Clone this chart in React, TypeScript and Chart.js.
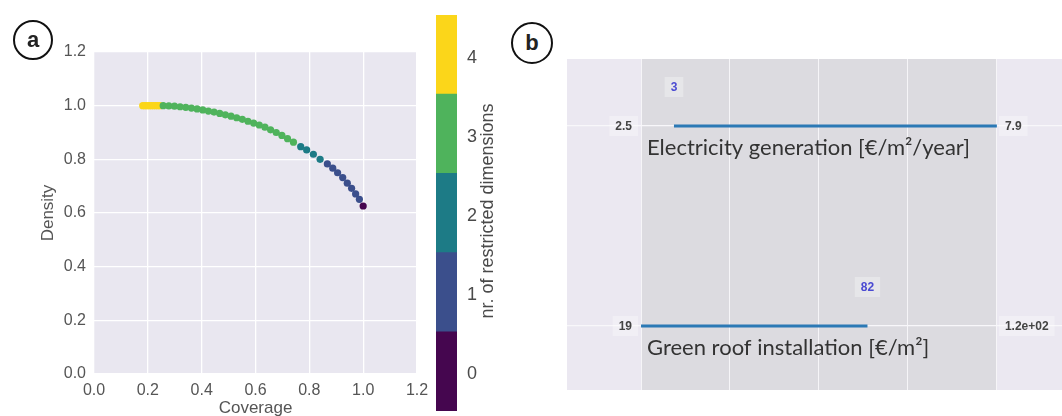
import React, { useEffect, useRef } from 'react';
import { Chart, registerables } from 'chart.js';

Chart.register(...registerables);
Chart.defaults.font.family = "'Liberation Sans', Arial, sans-serif";

// ---------- Panel a: Pareto front (coverage vs density) ----------
const coverage = [
  0.181, 0.189, 0.197, 0.205, 0.213, 0.221, 0.229, 0.237, 0.245,
  0.257, 0.278, 0.299, 0.320, 0.341, 0.362, 0.383, 0.404, 0.425, 0.446, 0.467, 0.488,
  0.509, 0.530, 0.551, 0.572, 0.593, 0.614, 0.635, 0.656, 0.677, 0.698, 0.719, 0.741,
  0.768, 0.790, 0.815, 0.840,
  0.867, 0.887, 0.905, 0.924, 0.941, 0.957, 0.972, 0.986,
  1.0,
];
const density = [
  1.0, 1.0, 1.0, 1.0, 1.0, 1.0, 1.0, 1.0, 1.0,
  1.000, 0.999, 0.998, 0.996, 0.994, 0.991, 0.988, 0.984, 0.980, 0.976, 0.971, 0.966,
  0.961, 0.955, 0.949, 0.942, 0.935, 0.928, 0.920, 0.910, 0.900, 0.889, 0.877, 0.864,
  0.847, 0.835, 0.819, 0.800,
  0.783, 0.767, 0.750, 0.732, 0.711, 0.692, 0.671, 0.651,
  0.626,
];
const restricted = [
  4, 4, 4, 4, 4, 4, 4, 4, 4,
  3, 3, 3, 3, 3, 3, 3, 3, 3, 3, 3, 3,
  3, 3, 3, 3, 3, 3, 3, 3, 3, 3, 3, 3,
  2, 2, 2, 2,
  1, 1, 1, 1, 1, 1, 1, 1,
  0,
];
const classColors = ['#45064f', '#3b4f8c', '#1d7b86', '#4fb35c', '#fbd61a'];
const colorbarTicks = [0, 1, 2, 3, 4];
const colorbarTitle = 'nr. of restricted dimensions';
const xTitleA = 'Coverage';
const yTitleA = 'Density';

// ---------- Panel b: restricted ranges per dimension ----------
const dimNames = ['Electricity generation [€/m²/year]', 'Green roof installation [€/m²]'];
const dimMin = [2.5, 19];
const dimMax = [7.9, 118];
const rangeLow = [3, 19];
const rangeHigh = [7.9, 82];
const thresholdValue = [3, 82];
const gridFractions = [0, 0.25, 0.5, 0.75, 1];

function fmtG(v: number): string {
  const exp = Math.floor(Math.log10(Math.abs(v)));
  if (exp < -4 || exp >= 2) {
    const [m, e] = v.toExponential(1).split('e');
    return m + 'e' + e[0] + e.slice(1).padStart(2, '0');
  }
  return String(parseFloat(v.toPrecision(2)));
}
const norm = (v: number, i: number) => (v - dimMin[i]) / (dimMax[i] - dimMin[i]);
const dimRow = (i: number) => dimNames.length - 1 - i;

function boxLabel(ctx: CanvasRenderingContext2D, text: string, x: number, y: number, align: CanvasTextAlign, color: string) {
  ctx.font = 'bold 12px "Liberation Sans", Arial, sans-serif';
  const w = ctx.measureText(text).width;
  let left = x;
  if (align === 'right') left = x - w;
  if (align === 'center') left = x - w / 2;
  ctx.fillStyle = 'rgba(255,255,255,0.3)';
  ctx.fillRect(left - 6, y - 10, w + 12, 20);
  ctx.fillStyle = color;
  ctx.textAlign = 'left';
  ctx.textBaseline = 'middle';
  ctx.fillText(text, left, y + 1);
}

const bgPluginA = {
  id: 'bgA',
  beforeDraw(chart: any) {
    const { ctx, chartArea: a } = chart;
    ctx.save();
    ctx.fillStyle = '#e9e7f0';
    ctx.fillRect(a.left, a.top, a.right - a.left, a.bottom - a.top);
    ctx.restore();
  },
};

const colorbarTitlePlugin = {
  id: 'cbTitle',
  afterDraw(chart: any) {
    const { ctx, chartArea: a } = chart;
    ctx.save();
    ctx.translate(a.right + 31, (a.top + a.bottom) / 2 - 2);
    ctx.rotate(-Math.PI / 2);
    ctx.font = '18px "Liberation Sans", Arial, sans-serif';
    ctx.fillStyle = '#4a4a4a';
    ctx.textAlign = 'center';
    ctx.textBaseline = 'middle';
    ctx.fillText(colorbarTitle, 0, 0);
    ctx.restore();
  },
};

const panelBPlugin = {
  id: 'panelB',
  beforeDraw(chart: any) {
    const { ctx, chartArea: a, scales } = chart;
    const x = scales.x;
    ctx.save();
    ctx.fillStyle = '#ebe8f1';
    ctx.fillRect(a.left, a.top, a.right - a.left, a.bottom - a.top);
    const x0 = x.getPixelForValue(0);
    const x1 = x.getPixelForValue(1);
    ctx.fillStyle = '#dcdbe0';
    ctx.fillRect(x0, a.top, x1 - x0, a.bottom - a.top);
    ctx.restore();
  },
  afterDatasetsDraw(chart: any) {
    const { ctx, scales } = chart;
    const x = scales.x;
    const y = scales.y;
    ctx.save();
    dimNames.forEach((name, i) => {
      const py = y.getPixelForValue(dimRow(i));
      const x0 = x.getPixelForValue(0);
      const x1 = x.getPixelForValue(1);
      boxLabel(ctx, fmtG(dimMin[i]), x0 - 9, py, 'right', '#444');
      boxLabel(ctx, fmtG(dimMax[i]), x1 + 8, py, 'left', '#444');
      const tx = x.getPixelForValue(norm(thresholdValue[i], i));
      boxLabel(ctx, fmtG(thresholdValue[i]), tx, py - 39, 'center', '#4a4ad2');
      ctx.font = '22px Lato, "Open Sans", sans-serif';
      ctx.fillStyle = '#333333';
      ctx.textAlign = 'left';
      ctx.textBaseline = 'alphabetic';
      ctx.fillText(name, x0 + 6, py + 29);
    });
    ctx.restore();
  },
};

const circleStyle = (cx: number, cy: number, r: number): React.CSSProperties => ({
  position: 'absolute',
  left: cx - r,
  top: cy - r,
  width: 2 * r - 4,
  height: 2 * r - 4,
  border: '2px solid #111',
  borderRadius: '50%',
  display: 'flex',
  alignItems: 'center',
  justifyContent: 'center',
  fontFamily: "'Liberation Sans', Arial, sans-serif",
  fontWeight: 'bold',
  fontSize: 22,
  color: '#222',
  lineHeight: 1,
});

export default function App() {
  const refA = useRef<HTMLCanvasElement>(null);
  const refCb = useRef<HTMLCanvasElement>(null);
  const refB = useRef<HTMLCanvasElement>(null);

  useEffect(() => {
    const tickFont = { size: 16 };
    const grid = { color: '#ffffff', lineWidth: 1.3, drawTicks: false };
    const chartA = new Chart(refA.current!, {
      type: 'scatter',
      data: {
        datasets: [
          {
            data: coverage.map((c, i) => ({ x: c, y: density[i] })),
            pointBackgroundColor: restricted.map((k) => classColors[k]),
            pointBorderWidth: 0,
            pointRadius: 3.6,
          },
        ],
      },
      options: {
        responsive: false,
        animation: false,
        devicePixelRatio: 1,
        layout: { padding: { left: 0, right: 15, top: 52, bottom: 0 } },
        plugins: { legend: { display: false }, tooltip: { enabled: false } },
        scales: {
          x: {
            type: 'linear',
            min: 0,
            max: 1.2,
            grid,
            border: { display: false },
            ticks: { stepSize: 0.2, font: tickFont, color: '#555', padding: 7, maxRotation: 0, callback: (v: any) => Number(v).toFixed(1) },
            title: { display: true, text: xTitleA, font: { size: 17 }, color: '#555', padding: { top: 0, bottom: -3 } },
            afterFit: (s: any) => { s.height = 42; s.paddingLeft = 0; s.paddingRight = 0; },
          },
          y: {
            type: 'linear',
            min: 0,
            max: 1.2,
            grid,
            border: { display: false },
            ticks: { stepSize: 0.2, font: tickFont, color: '#555', padding: 8, callback: (v: any) => Number(v).toFixed(1) },
            title: { display: true, text: yTitleA, font: { size: 17 }, color: '#555', padding: { top: 38, bottom: 0 } },
            afterFit: (s: any) => { s.width = 94; s.paddingTop = 0; s.paddingBottom = 0; },
          },
        },
      },
      plugins: [bgPluginA],
    });

    const chartCb = new Chart(refCb.current!, {
      type: 'bar',
      data: {
        labels: [''],
        datasets: classColors.map((c, i) => ({
          data: [[colorbarTicks[i] - 0.5, colorbarTicks[i] + 0.5]] as any,
          backgroundColor: c,
          borderWidth: 0,
          barPercentage: 1,
          categoryPercentage: 1,
          grouped: false,
        })),
      },
      options: {
        responsive: false,
        animation: false,
        devicePixelRatio: 1,
        layout: { padding: { left: 6, right: 0, top: 15, bottom: 5 } },
        plugins: { legend: { display: false }, tooltip: { enabled: false } },
        scales: {
          x: { display: false },
          y: {
            position: 'right',
            min: -0.5,
            max: 4.5,
            grid: { display: false, drawTicks: false },
            border: { display: false },
            afterBuildTicks: (s: any) => { s.ticks = colorbarTicks.map((v) => ({ value: v })); },
            ticks: { font: { size: 18 }, color: '#4a4a4a', padding: 10, labelOffset: 3 },
            afterFit: (s: any) => { s.width = 53; s.paddingTop = 0; s.paddingBottom = 0; },
          },
        },
      },
      plugins: [colorbarTitlePlugin],
    });

    const chartB = new Chart(refB.current!, {
      type: 'scatter',
      data: {
        datasets: dimNames.map((n, i) => ({
          label: n,
          data: [
            { x: norm(rangeLow[i], i), y: dimRow(i) },
            { x: norm(rangeHigh[i], i), y: dimRow(i) },
          ],
          showLine: true,
          borderColor: '#2b79b5',
          borderWidth: 3,
          pointRadius: 0,
        })),
      },
      options: {
        responsive: false,
        animation: false,
        devicePixelRatio: 1,
        layout: { padding: { left: 7, right: 0, top: 59, bottom: 26 } },
        plugins: { legend: { display: false }, tooltip: { enabled: false } },
        scales: {
          x: {
            type: 'linear',
            min: -0.208,
            max: 1.183,
            grid: { color: '#f6f5f8', lineWidth: 1, drawTicks: false },
            border: { display: false },
            ticks: { display: false },
            afterBuildTicks: (s: any) => { s.ticks = gridFractions.map((v) => ({ value: v })); },
            afterFit: (s: any) => { s.height = 0; s.paddingLeft = 0; s.paddingRight = 0; },
          },
          y: {
            type: 'linear',
            min: -0.32,
            max: 1.335,
            grid: { color: '#f8f7fa', lineWidth: 1.2, drawTicks: false },
            border: { display: false },
            ticks: { display: false },
            afterBuildTicks: (s: any) => { s.ticks = dimNames.map((_, i) => ({ value: dimRow(i) })); },
            afterFit: (s: any) => { s.width = 0; s.paddingTop = 0; s.paddingBottom = 0; },
          },
        },
      },
      plugins: [panelBPlugin],
    });

    return () => {
      chartA.destroy();
      chartCb.destroy();
      chartB.destroy();
    };
  }, []);

  return (
    <div style={{ position: 'absolute', left: 0, top: 0, width: 1062, height: 416, overflow: 'hidden', background: '#fff' }}>
      <canvas ref={refA} width={432} height={416} style={{ position: 'absolute', left: 0, top: 0 }} />
      <canvas ref={refCb} width={80} height={416} style={{ position: 'absolute', left: 430, top: 0 }} />
      <canvas ref={refB} width={502} height={416} style={{ position: 'absolute', left: 560, top: 0 }} />
      <div style={circleStyle(33, 40, 20)}>a</div>
      <div style={circleStyle(532, 43, 21)}>b</div>
    </div>
  );
}
